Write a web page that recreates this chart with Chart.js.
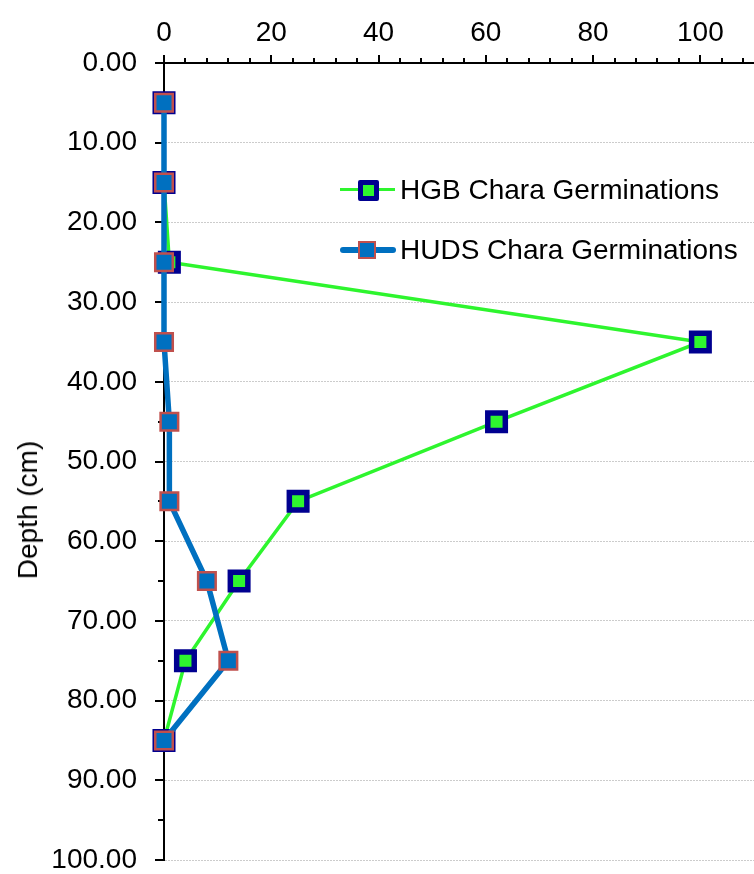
<!DOCTYPE html>
<html>
<head>
<meta charset="utf-8">
<script src="https://cdn.jsdelivr.net/npm/chart.js@4.4.0/dist/chart.umd.min.js"></script>
<style>
  html, body { margin: 0; padding: 0; background: #fff; }
  #wrap { position: relative; width: 754px; height: 874px; }
  .y-title {
    position: absolute; left: 28px; top: 510px;
    transform: translate(-50%, -50%) rotate(-90deg);
    font: 28px "Liberation Sans", Arial, sans-serif; color: #000; white-space: nowrap;
  }
  .lg-text {
    position: absolute; left: 400px;
    font: 28px "Liberation Sans", Arial, sans-serif; color: #000; white-space: nowrap;
    line-height: 30px;
  }
  .lg-line { position: absolute; }
  .lg-mark { position: absolute; box-sizing: border-box; }
</style>
</head>
<body>
<div id="wrap">
  <canvas id="depthChart" width="754" height="874"></canvas>
  <div class="y-title">Depth (cm)</div>

  <!-- legend: HGB -->
  <div class="lg-line" style="left:340px; top:188px; width:55px; height:3px; background:#2ef52e;"></div>
  <div class="lg-mark" style="left:358px; top:180px; width:21px; height:21px; background:#2ef52e; border:5px solid #000090; border-radius:2px;"></div>
  <div class="lg-text" style="top:175px;">HGB Chara Germinations</div>

  <!-- legend: HUDS -->
  <div class="lg-line" style="left:340px; top:247px; width:56px; height:6px; background:#0070c0; border-radius:3px;"></div>
  <div class="lg-mark" style="left:358px; top:241px; width:18px; height:18px; background:#0070c0; border:2px solid #c0504d;"></div>
  <div class="lg-text" style="top:235px;">HUDS Chara Germinations</div>
</div>

<script>
const DEPTHS     = [5, 15, 25, 35, 45, 55, 65, 75, 85];
const HGB_COUNTS  = [0, 0, 1, 100, 62, 25, 14, 4, 0];
const HUDS_COUNTS = [0, 0, 0, 0, 1, 1, 8, 12, 0];

const X_MAX = 110;
const Y_MAX = 100;
const FONT  = { family: '"Liberation Sans", Arial, sans-serif', size: 28 };

const toPoints = (vals) => vals.map((v, i) => ({ x: v, y: DEPTHS[i] }));

// Excel-style major/minor tick marks on the outside of both axes
const tickMarks = {
  id: 'tickMarks',
  beforeDatasetsDraw(chart) {
    const { ctx, scales: { x, y } } = chart;
    ctx.save();
    ctx.strokeStyle = '#000';
    ctx.lineWidth = 2;
    ctx.beginPath();
    for (let v = 0; v <= X_MAX; v += 4) {
      const px = Math.round(x.getPixelForValue(v));
      const len = v % 20 === 0 ? 8 : 5;
      ctx.moveTo(px, y.top);
      ctx.lineTo(px, y.top - len);
    }
    for (let v = 0; v <= Y_MAX; v += 5) {
      const py = Math.round(y.getPixelForValue(v));
      const len = v % 10 === 0 ? 9 : 6;
      ctx.moveTo(x.left, py);
      ctx.lineTo(x.left - len, py);
    }
    ctx.stroke();
    ctx.restore();
  },
};

new Chart(document.getElementById('depthChart'), {
  type: 'scatter',
  data: {
    datasets: [
      {
        label:           'HGB Chara Germinations',
        data:            toPoints(HGB_COUNTS),
        showLine:        true,
        borderColor:     '#2ef52e',
        borderWidth:     3.5,
        pointStyle:      'rect',
        pointRadius:     12.4,
        pointBorderWidth: 5.5,
        pointBorderColor: '#000090',
        pointBackgroundColor: '#2ef52e',
        pointHoverRadius: 12.4,
        clip:            false,
        order:           1,
      },
      {
        label:           'HUDS Chara Germinations',
        data:            toPoints(HUDS_COUNTS),
        showLine:        true,
        borderColor:     '#0070c0',
        borderWidth:     5.5,
        borderCapStyle:  'round',
        pointStyle:      'rect',
        pointRadius:     12.4,
        pointBorderWidth: 2.5,
        pointBorderColor: '#c0504d',
        pointBackgroundColor: '#0070c0',
        pointHoverRadius: 12.4,
        clip:            false,
        order:           0,
      },
    ],
  },
  options: {
    responsive: false,
    animation:  false,
    layout: { autoPadding: false, padding: { left: 0, right: 0, top: 0, bottom: 14 } },
    plugins: {
      legend:  { display: false },
      tooltip: { enabled: false },
    },
    scales: {
      x: {
        type:     'linear',
        position: 'top',
        min: 0, max: X_MAX,
        afterFit: (s) => { s.height = 63; s.paddingLeft = 0; s.paddingRight = 0; },
        grid:   { display: false, drawTicks: false },
        border: { display: true, color: '#000', width: 2 },
        ticks: {
          stepSize: 20, includeBounds: false, padding: 13,
          color: '#000', font: FONT, maxRotation: 0,
        },
      },
      y: {
        type:    'linear',
        reverse: true,
        min: 0, max: Y_MAX,
        afterFit: (s) => { s.width = 164; s.paddingTop = 0; s.paddingBottom = 0; },
        grid: {
          drawTicks: false,
          lineWidth: 1,
          color: (c) => (c.tick && c.tick.value === 0 ? 'rgba(0,0,0,0)' : '#cccccc'),
        },
        border: { display: true, color: '#000', width: 2, dash: [2, 1] },
        ticks: {
          stepSize: 10, padding: 27,
          color: '#000', font: FONT,
          callback: (v) => v.toFixed(2),
        },
      },
    },
  },
  plugins: [tickMarks],
});
</script>
</body>
</html>
